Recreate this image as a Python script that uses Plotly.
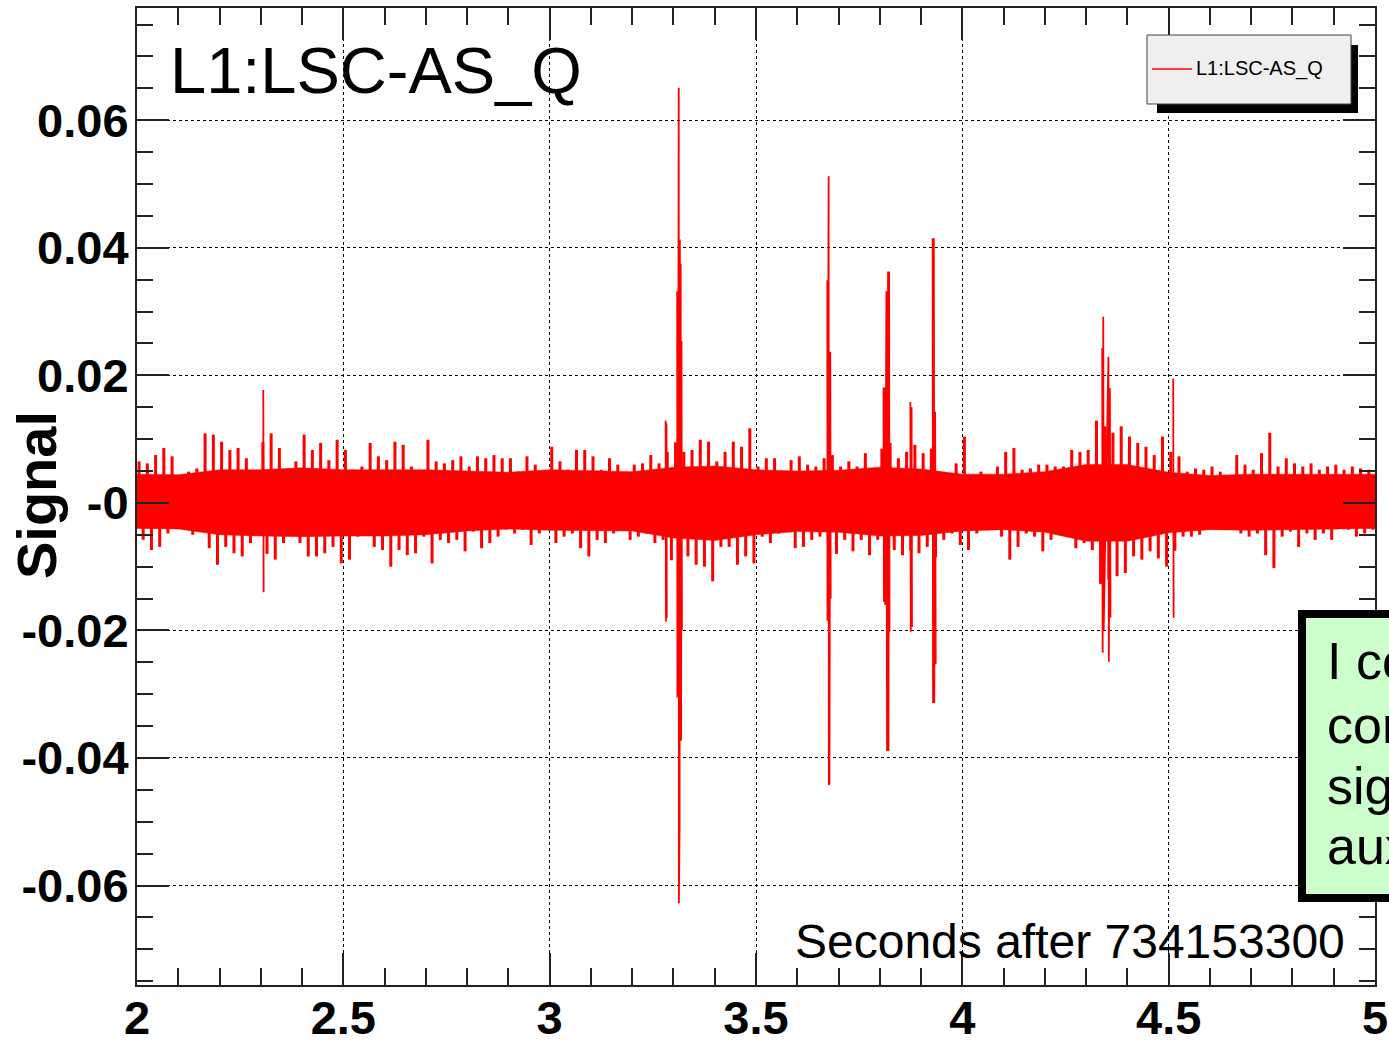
import plotly.graph_objects as go

# ---------------- data ----------------
channel_name = "L1:LSC-AS_Q"
x_title = "Seconds after 734153300"
y_title = "Signal"

x_tick_vals = [2, 2.5, 3, 3.5, 4, 4.5, 5]
x_tick_text = ["2", "2.5", "3", "3.5", "4", "4.5", "5"]
y_tick_vals = [-0.06, -0.04, -0.02, 0, 0.02, 0.04, 0.06]
y_tick_text = ["-0.06", "-0.04", "-0.02", "-0", "0.02", "0.04", "0.06"]

# start time of each 0.02 s bin
bin_start = [round(2.0 + 0.02 * i, 2) for i in range(150)]

# per-bin maximum of the noise (upper envelope)
upper_env = [
    0.0065, 0.0062, 0.0075, 0.0086, 0.0073, 0.0044, 0.0049, 0.0054, 0.0109, 0.0107,
    0.0096, 0.0083, 0.0086, 0.0070, 0.0041, 0.0095, 0.0109, 0.0086, 0.0036, 0.0065,
    0.0107, 0.0083, 0.0094, 0.0067, 0.0099, 0.0083, 0.0052, 0.0057, 0.0094, 0.0073,
    0.0067, 0.0096, 0.0091, 0.0057, 0.0031, 0.0099, 0.0065, 0.0062, 0.0067, 0.0073,
    0.0057, 0.0073, 0.0070, 0.0075, 0.0070, 0.0070, 0.0049, 0.0073, 0.0060, 0.0031,
    0.0088, 0.0065, 0.0052, 0.0083, 0.0083, 0.0073, 0.0052, 0.0070, 0.0060, 0.0036,
    0.0060, 0.0062, 0.0075, 0.0062, 0.0080, 0.0095, 0.0080, 0.0083, 0.0099, 0.0096,
    0.0065, 0.0080, 0.0096, 0.0088, 0.0117, 0.0057, 0.0070, 0.0070, 0.0049, 0.0067,
    0.0073, 0.0060, 0.0057, 0.0070, 0.0075, 0.0057, 0.0065, 0.0057, 0.0078, 0.0054,
    0.0085, 0.0094, 0.0070, 0.0080, 0.0091, 0.0078, 0.0085, 0.0049, 0.0041, 0.0062,
    0.0104, 0.0041, 0.0049, 0.0044, 0.0057, 0.0080, 0.0086, 0.0052, 0.0054, 0.0060,
    0.0060, 0.0057, 0.0057, 0.0083, 0.0080, 0.0083, 0.0129, 0.0120, 0.0110, 0.0120,
    0.0104, 0.0094, 0.0088, 0.0075, 0.0104, 0.0080, 0.0073, 0.0049, 0.0054, 0.0052,
    0.0057, 0.0049, 0.0036, 0.0075, 0.0060, 0.0052, 0.0078, 0.0110, 0.0057, 0.0070,
    0.0062, 0.0057, 0.0062, 0.0052, 0.0057, 0.0060, 0.0052, 0.0057, 0.0054, 0.0052,
]

# per-bin minimum of the noise (lower envelope)
lower_env = [
    -0.0058, -0.0074, -0.0069, -0.0048, -0.0040, -0.0037, -0.0050, -0.0037, -0.0071, -0.0097,
    -0.0069, -0.0079, -0.0084, -0.0063, -0.0042, -0.0080, -0.0089, -0.0063, -0.0032, -0.0063,
    -0.0084, -0.0084, -0.0079, -0.0069, -0.0095, -0.0089, -0.0053, -0.0042, -0.0069, -0.0074,
    -0.0100, -0.0074, -0.0082, -0.0079, -0.0053, -0.0095, -0.0058, -0.0063, -0.0058, -0.0076,
    -0.0045, -0.0071, -0.0063, -0.0053, -0.0042, -0.0048, -0.0042, -0.0066, -0.0048, -0.0032,
    -0.0063, -0.0053, -0.0048, -0.0071, -0.0084, -0.0058, -0.0063, -0.0048, -0.0042, -0.0058,
    -0.0053, -0.0048, -0.0063, -0.0058, -0.0090, -0.0100, -0.0084, -0.0097, -0.0100, -0.0123,
    -0.0069, -0.0069, -0.0097, -0.0084, -0.0095, -0.0053, -0.0063, -0.0048, -0.0037, -0.0071,
    -0.0069, -0.0058, -0.0053, -0.0058, -0.0080, -0.0058, -0.0076, -0.0058, -0.0082, -0.0058,
    -0.0090, -0.0074, -0.0082, -0.0075, -0.0079, -0.0069, -0.0085, -0.0058, -0.0048, -0.0066,
    -0.0074, -0.0048, -0.0040, -0.0032, -0.0053, -0.0089, -0.0069, -0.0048, -0.0053, -0.0076,
    -0.0058, -0.0048, -0.0048, -0.0071, -0.0063, -0.0074, -0.0127, -0.0120, -0.0115, -0.0110,
    -0.0084, -0.0089, -0.0076, -0.0087, -0.0100, -0.0075, -0.0053, -0.0053, -0.0050, -0.0042,
    -0.0040, -0.0042, -0.0037, -0.0048, -0.0053, -0.0048, -0.0082, -0.0102, -0.0053, -0.0045,
    -0.0069, -0.0048, -0.0058, -0.0048, -0.0058, -0.0040, -0.0042, -0.0053, -0.0048, -0.0042,
]

# dense (solid) core of the noise band, every 0.1 s
core_t = [2.0, 2.1, 2.2, 2.3, 2.4, 2.5, 2.6, 2.7, 2.8, 2.9, 3.0, 3.1, 3.2, 3.3, 3.4, 3.5,
          3.6, 3.7, 3.8, 3.9, 4.0, 4.1, 4.2, 4.3, 4.4, 4.5, 4.6, 4.7, 4.8, 4.9, 5.0]
core_upper = [0.0045, 0.0044, 0.0052, 0.0052, 0.0055, 0.0052, 0.0052, 0.0052, 0.0050, 0.0048,
              0.0052, 0.0050, 0.0049, 0.0056, 0.0058, 0.0052, 0.0050, 0.0051, 0.0056, 0.0053,
              0.0045, 0.0045, 0.0049, 0.0060, 0.0060, 0.0048, 0.0043, 0.0045, 0.0045, 0.0045,
              0.0045]
core_lower = [-0.0040, -0.0041, -0.0050, -0.0052, -0.0053, -0.0052, -0.0052, -0.0050, -0.0044, -0.0041,
              -0.0043, -0.0044, -0.0044, -0.0055, -0.0059, -0.0050, -0.0045, -0.0046, -0.0052, -0.0051,
              -0.0044, -0.0042, -0.0046, -0.0060, -0.0060, -0.0047, -0.0042, -0.0043, -0.0042, -0.0041,
              -0.0040]

# glitches (individual samples), None separates events
spike_t = [2.3060, 2.3068, None,
           3.2810, 3.2818, 3.2830, 3.2838, None,
           3.3090, 3.3095, 3.3100, 3.3105, 3.3128, 3.3131, 3.3140, 3.3148, 3.3155, 3.3165,
           3.3175, 3.3185, 3.3195, 3.3205, None,
           3.6728, 3.6732, 3.6760, 3.6765, 3.6775, 3.6780, 3.6800, 3.6810, None,
           3.8090, 3.8100, 3.8120, 3.8130, 3.8160, 3.8175, 3.8200, 3.8210, 3.8225, 3.8235, None,
           3.8740, 3.8750, 3.8770, 3.8780, None,
           3.9280, 3.9290, 3.9310, 3.9320, 3.9340, 3.9355, None,
           4.3390, 4.3400, 4.3415, 4.3425, 4.3540, 4.3550, 4.3575, 4.3590, None,
           4.5110, 4.5120]
spike_v = [0.0177, -0.0140, None,
           0.0129, -0.0186, 0.0125, -0.0180, None,
           0.0332, -0.0305, 0.0330, -0.0300, 0.0651, -0.0628, 0.0413, -0.0507, 0.0413, -0.0373,
           0.0375, -0.0373, 0.0254, -0.0200, None,
           0.0349, -0.0185, 0.0512, -0.0442, 0.0505, -0.0440, 0.0237, -0.0150, None,
           0.0181, -0.0155, 0.0181, -0.0160, 0.0332, -0.0389, 0.0363, -0.0389, 0.0363, -0.0202, None,
           0.0158, -0.0202, 0.0150, -0.0195, None,
           0.0415, -0.0314, 0.0415, -0.0314, 0.0143, -0.0253, None,
           0.0243, -0.0235, 0.0292, -0.0200, 0.0229, -0.0249, 0.0180, -0.0180, None,
           0.0195, -0.0180]

note_lines = ["I could not", "correlate this", "signal with", "auxiliary channels"]

# ---------------- layout geometry ----------------
W, H = 1389, 1041
ML, MR, MT, MB = 137, 14, 8, 56
PW = W - ML - MR
PH = H - MT - MB


def pxx(x):
    return (x - ML) / PW


def pxy(y):
    return (H - MB - y) / PH


RED = "#ff0000"
FONT = "Liberation Sans, Arial, Helvetica, sans-serif"

# vertical strokes from the band centre out to the per-bin extremes
env_x, env_y = [], []
for t0, hi, lo in zip(bin_start, upper_env, lower_env):
    env_x += [t0 + 0.005, t0 + 0.005, None, t0 + 0.015, t0 + 0.015, None]
    env_y += [0.0, hi, None, 0.0, lo, None]

fig = go.Figure()
fig.add_trace(go.Scatter(
    x=core_t + core_t[::-1], y=core_upper + core_lower[::-1],
    fill="toself", fillcolor=RED, line=dict(color=RED, width=0.5),
    mode="lines", showlegend=False, hoverinfo="skip"))
fig.add_trace(go.Scatter(
    x=env_x, y=env_y, mode="lines", name=channel_name, connectgaps=False,
    line=dict(color=RED, width=3), showlegend=False))
fig.add_trace(go.Scatter(
    x=spike_t, y=spike_v, mode="lines", connectgaps=False,
    line=dict(color=RED, width=1.8), showlegend=False, hoverinfo="skip"))

axis_common = dict(
    showline=True, linecolor="#222", linewidth=2, mirror="ticks",
    ticks="inside", tickcolor="#222", tickwidth=1.5, ticklen=32,
    showgrid=True, gridcolor="#000", griddash="dot", gridwidth=1,
    zeroline=False, automargin=False,
    tickfont=dict(family=FONT, size=47, color="black", weight="bold"),
)

fig.update_xaxes(
    range=[2, 5], tickmode="array", tickvals=x_tick_vals, ticktext=x_tick_text,
    ticklabelstandoff=-9,
    minor=dict(dtick=0.1, ticks="inside", ticklen=17, tickcolor="#222", tickwidth=1.5, showgrid=False),
    **axis_common)
fig.update_yaxes(
    range=[-0.0756, 0.0776], tickmode="array", tickvals=y_tick_vals, ticktext=y_tick_text,
    ticklabelstandoff=-3,
    minor=dict(dtick=0.005, ticks="inside", ticklen=16, tickcolor="#222", tickwidth=1.5, showgrid=False),
    **axis_common)

shapes = []
annotations = []

# legend box with shadow
shapes.append(dict(type="rect", xref="paper", yref="paper",
                   x0=pxx(1157), x1=pxx(1358), y0=pxy(113), y1=pxy(45),
                   fillcolor="black", line=dict(width=0), layer="above"))
shapes.append(dict(type="rect", xref="paper", yref="paper",
                   x0=pxx(1147), x1=pxx(1351), y0=pxy(104), y1=pxy(35),
                   fillcolor="#efefef", line=dict(color="#444", width=1), layer="above"))
shapes.append(dict(type="line", xref="paper", yref="paper",
                   x0=pxx(1152), x1=pxx(1192), y0=pxy(69), y1=pxy(69),
                   line=dict(color=RED, width=1.5), layer="above"))
annotations.append(dict(xref="paper", yref="paper", x=pxx(1194), y=pxy(69),
                        xanchor="left", yanchor="middle", showarrow=False,
                        text=channel_name, font=dict(family=FONT, size=20, color="black")))

# green note box (cut by the page edge, as in the original slide)
shapes.append(dict(type="rect", xref="paper", yref="paper",
                   x0=pxx(1302), x1=pxx(1430), y0=pxy(898), y1=pxy(614),
                   fillcolor="#ccffcc", line=dict(color="black", width=8), layer="above"))
for line_text, yc in zip(note_lines, [661, 725, 786, 846]):
    annotations.append(dict(xref="paper", yref="paper", x=pxx(1325), y=pxy(yc),
                            xanchor="left", yanchor="middle", showarrow=False,
                            text=line_text, font=dict(family=FONT, size=52, color="black")))

# title inside the frame
annotations.append(dict(xref="paper", yref="paper", x=pxx(168), y=pxy(71),
                        xanchor="left", yanchor="middle", showarrow=False,
                        text=channel_name, font=dict(family=FONT, size=65, color="black")))
# x axis title (inside, bottom right)
annotations.append(dict(xref="paper", yref="paper", x=pxx(1347), y=pxy(941),
                        xanchor="right", yanchor="middle", showarrow=False,
                        text=x_title, font=dict(family=FONT, size=48, color="black")))
# y axis title
annotations.append(dict(xref="paper", yref="paper", x=pxx(36), y=pxy(495),
                        xanchor="center", yanchor="middle", showarrow=False, textangle=-90,
                        text=y_title, font=dict(family=FONT, size=56, color="black", weight="bold")))

fig.update_layout(
    width=W, height=H, autosize=False,
    margin=dict(l=ML, r=MR, t=MT, b=MB, pad=0),
    paper_bgcolor="white", plot_bgcolor="white",
    shapes=shapes, annotations=annotations, showlegend=False,
)

fig.write_html("out.html")
